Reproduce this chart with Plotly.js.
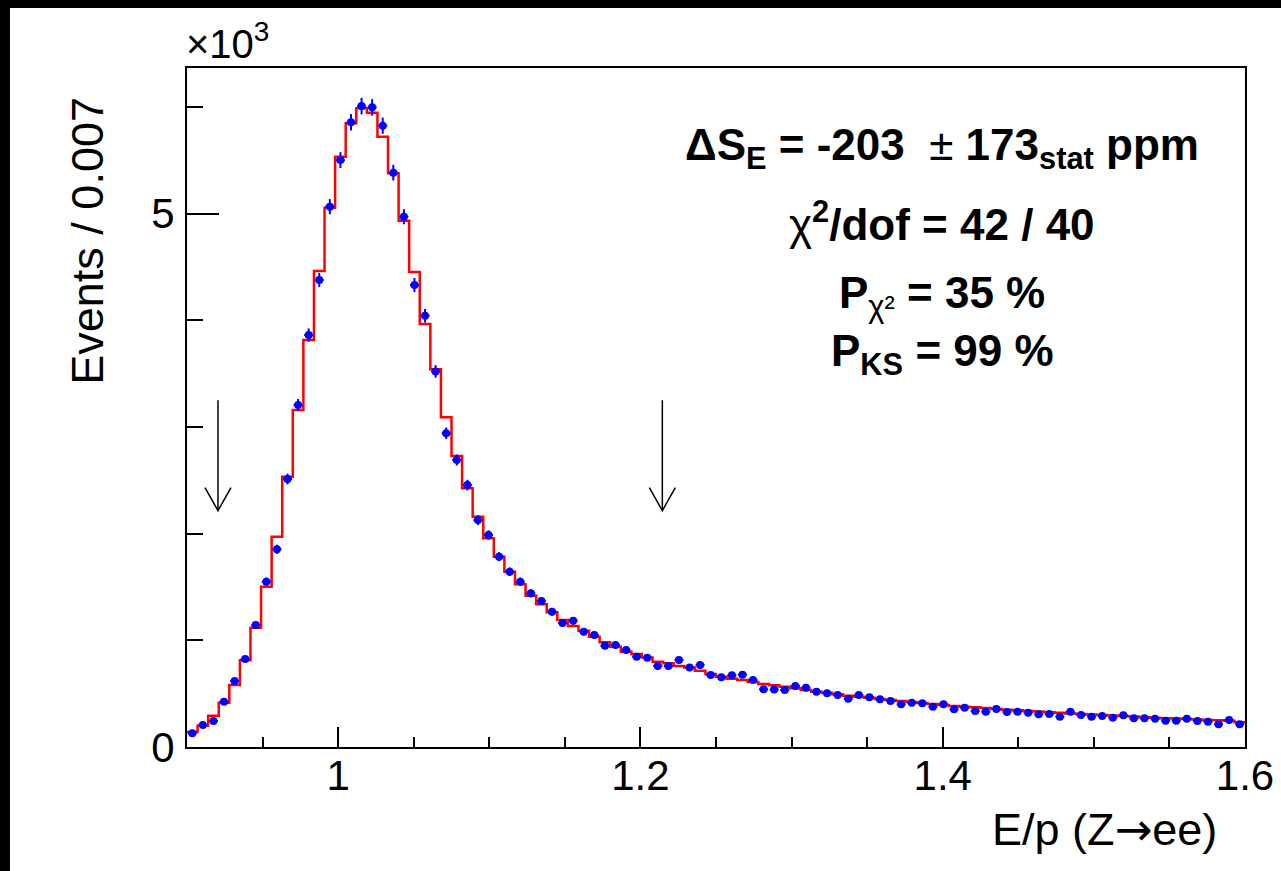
<!DOCTYPE html>
<html><head><meta charset="utf-8">
<script src="https://cdn.plot.ly/plotly-3.0.1.min.js"></script>
<style>
html,body{margin:0;padding:0;background:#000;width:1281px;height:871px;overflow:hidden}
#plot{position:absolute;left:10px;top:8px;width:1271px;height:863px;background:#fff}
</style></head><body><div id="plot"></div>
<script>
// Histogram binning: 100 bins of width 0.007 from 0.9 to 1.6
const binLow = 0.9;
const binWidth = 0.007;
const nBins = 100;

// Data (blue points), events per bin
const dataCounts = [
  128, 206, 244, 425, 619, 825, 1143, 1549, 1853, 2512,
  3205, 3861, 4377, 5064, 5501, 5855, 6007, 5995, 5823, 5383,
  4970, 4330, 4042, 3520, 2940, 2690, 2455, 2127, 1987, 1784,
  1643, 1549, 1440, 1368, 1268, 1162, 1184, 1081, 1050, 949,
  956, 909, 847, 837, 759, 759, 815, 744, 769, 675,
  653, 672, 678, 628, 541, 538, 534, 572, 556, 519,
  503, 487, 453, 487, 466, 447, 431, 400, 415, 409,
  378, 400, 353, 368, 337, 331, 356, 328, 331, 322,
  306, 309, 284, 331, 300, 284, 291, 275, 297, 269,
  269, 265, 247, 247, 265, 244, 237, 213, 253, 213
];

// Fitted template (red histogram), events per bin
const fitCounts = [
  141, 200, 293, 415, 581, 812, 1118, 1502, 1971, 2533,
  3158, 3814, 4461, 5054, 5533, 5845, 5986, 5945, 5720, 5377,
  4933, 4452, 3964, 3540, 3090, 2727, 2424, 2159, 1956, 1784,
  1643, 1525, 1418, 1337, 1262, 1190, 1134, 1090, 1034, 981,
  940, 893, 872, 840, 800, 784, 759, 744, 715, 684,
  659, 640, 628, 609, 590, 578, 565, 550, 534, 519,
  509, 494, 481, 472, 462, 450, 440, 431, 422, 412,
  403, 394, 384, 378, 372, 365, 356, 350, 344, 338,
  332, 326, 320, 315, 310, 305, 300, 295, 290, 285,
  280, 275, 270, 266, 262, 258, 254, 250, 246, 232
];

// Fit-range arrows
const arrowX = [0.9205, 1.2145];
const arrowTop = 3250;
const arrowTip = 2215;

// Axis ticks
const xTickVals = [1.0, 1.2, 1.4, 1.6];
const xTickText = ['1', '1.2', '1.4', '1.6'];
const yTickVals = [0, 5000];
const yTickText = ['0', '5'];

// Text
const xTitle = 'E/p (Z<span style="font-family:DejaVu Sans">→</span>ee)';
const yTitle = 'Events / 0.007';
const statLines = [
  '<b>ΔS<sub>E</sub> = -203 </b> ± <b>173<sub>stat</sub> ppm</b>',
  'χ<b><sup>2</sup>/dof = 42 / 40</b>',
  '<b>P</b><sub>χ²</sub><b> = 35 %</b>',
  '<b>P<sub>KS</sub> = 99 %</b>'
];
const statY = [0.882, 0.774, 0.664, 0.579];

const centers = dataCounts.map((_, i) => binLow + binWidth * (i + 0.5));
const edges = [];
for (let i = 0; i <= nBins; i++) edges.push(binLow + binWidth * i);
const stepY = fitCounts.concat([fitCounts[fitCounts.length - 1]]);

const FONT = 'Liberation Sans, Arial, Helvetica, sans-serif';

const traces = [
  {
    x: edges, y: stepY, type: 'scatter', mode: 'lines',
    line: {shape: 'hv', color: '#ff0000', width: 2.5},
    hoverinfo: 'skip'
  },
  {
    x: centers, y: dataCounts, type: 'scatter', mode: 'markers',
    marker: {color: '#0000ff', size: 8, symbol: 'circle'},
    error_y: {type: 'sqrt', color: '#0000ff', thickness: 2, width: 0},
    error_x: {type: 'constant', value: binWidth / 2 * 0.85, color: '#0000ff', thickness: 2, width: 0}
  }
];

const shapes = [];
arrowX.forEach(ax => {
  shapes.push({type: 'line', xref: 'x', yref: 'y', x0: ax, x1: ax, y0: arrowTop, y1: arrowTip,
    line: {color: '#000', width: 1.5}});
  shapes.push({type: 'path', xref: 'x', yref: 'y', xsizemode: 'pixel', ysizemode: 'pixel',
    xanchor: ax, yanchor: arrowTip, path: 'M-13,23 L0,0 L13,23',
    line: {color: '#000', width: 1.5}});
});

const annotations = statLines.map((t, i) => ({
  text: t, xref: 'paper', yref: 'paper', x: 0.7137, y: statY[i],
  xanchor: 'center', yanchor: 'middle', showarrow: false,
  font: {family: FONT, size: 44, color: '#000'}
}));
annotations.push({
  text: '×10<sup>3</sup>', xref: 'paper', yref: 'paper', x: 0, y: 1,
  xanchor: 'left', yanchor: 'bottom', xshift: -3, yshift: 0, showarrow: false,
  font: {family: FONT, size: 40, color: '#000'}
});
annotations.push({
  text: xTitle, xref: 'paper', yref: 'paper', x: 0.975, y: -0.122,
  xanchor: 'right', yanchor: 'middle', showarrow: false,
  font: {family: FONT, size: 45, color: '#000'}
});
annotations.push({
  text: yTitle, xref: 'paper', yref: 'paper', x: -0.094, y: 0.96,
  xanchor: 'center', yanchor: 'top', textangle: -90, showarrow: false,
  font: {family: FONT, size: 45, color: '#000'}
});

const layout = {
  width: 1271, height: 863,
  margin: {l: 177, r: 36, t: 60, b: 124},
  paper_bgcolor: '#fff', plot_bgcolor: '#fff',
  showlegend: false,
  font: {family: FONT, color: '#000'},
  xaxis: {
    range: [0.9, 1.6], showgrid: false, zeroline: false,
    showline: true, mirror: true, linecolor: '#000', linewidth: 2,
    ticks: 'inside', ticklen: 20, tickwidth: 2, tickcolor: '#000',
    tickmode: 'array', tickvals: xTickVals, ticktext: xTickText,
    tickfont: {family: FONT, size: 42, color: '#000'},
    ticklabelstandoff: -9,
    minor: {ticks: 'inside', ticklen: 10, tickwidth: 2, tickcolor: '#000', tick0: 0.9, dtick: 0.05, showgrid: false}
  },
  yaxis: {
    range: [0, 6364], showgrid: false, zeroline: false,
    showline: true, mirror: true, linecolor: '#000', linewidth: 2,
    ticks: 'inside', ticklen: 32, tickwidth: 2, tickcolor: '#000',
    tickmode: 'array', tickvals: yTickVals, ticktext: yTickText,
    tickfont: {family: FONT, size: 42, color: '#000'},
    ticklabelstandoff: 2,
    minor: {ticks: 'inside', ticklen: 16, tickwidth: 2, tickcolor: '#000', tick0: 0, dtick: 1000, showgrid: false}
  },
  shapes: shapes,
  annotations: annotations
};

Plotly.newPlot('plot', traces, layout, {staticPlot: true, displayModeBar: false});
</script>
</body></html>
